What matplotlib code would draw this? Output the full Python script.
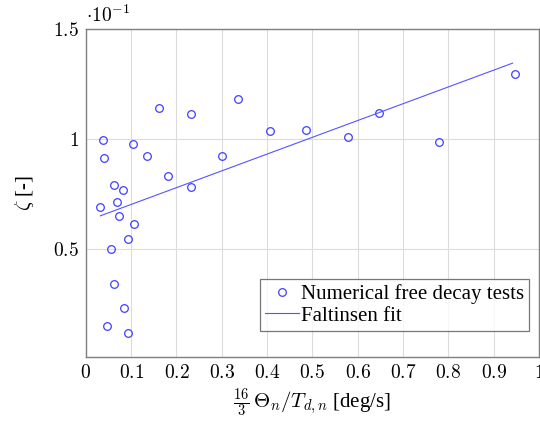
import matplotlib
matplotlib.use("Agg")
import matplotlib.pyplot as plt
import numpy as np

# datos (zeta en unidades reales)
theta_rate = [0.032, 0.037, 0.040, 0.062, 0.083, 0.069, 0.074, 0.056, 0.106, 0.093,
              0.103, 0.062, 0.084, 0.047, 0.093, 0.136, 0.161, 0.182, 0.231, 0.231,
              0.301, 0.336, 0.407, 0.485, 0.579, 0.647, 0.780, 0.947]
zeta = [0.0691, 0.0995, 0.0912, 0.0793, 0.0768, 0.0712, 0.0650, 0.0501, 0.0615, 0.0543,
        0.0977, 0.0342, 0.0231, 0.0147, 0.0116, 0.0925, 0.1143, 0.0830, 0.1114, 0.0781,
        0.0922, 0.1184, 0.1038, 0.1042, 0.1012, 0.1119, 0.0985, 0.1298]

# ajuste de Faltinsen: zeta = a + b*x
fit_a = 0.0626
fit_b = 0.0765

x_ticks = [0, 0.1, 0.2, 0.3, 0.4, 0.5, 0.6, 0.7, 0.8, 0.9, 1]
x_ticklabels = ['0', '0.1', '0.2', '0.3', '0.4', '0.5', '0.6', '0.7', '0.8', '0.9', '1']
y_ticks = [0.05, 0.10, 0.15]
y_ticklabels = ['0.5', '1', '1.5']

plt.rcParams['font.family'] = ['Liberation Serif', 'DejaVu Serif']
plt.rcParams['mathtext.fontset'] = 'cm'

fig = plt.figure(figsize=(5.4, 4.21), dpi=100)
ax = fig.add_axes([0.159, 0.152, 0.839, 0.778])

ax.plot(theta_rate, zeta, linestyle='none', marker='o', markersize=5.5,
        markerfacecolor='none', markeredgecolor='#4040ff', markeredgewidth=0.9,
        label='Numerical free decay tests')

fit_x = np.array([min(theta_rate), 0.942])
ax.plot(fit_x, fit_a + fit_b * fit_x, color='#5555ff', linewidth=0.8,
        label='Faltinsen fit')

ax.set_xlim(0, 1)
ax.set_ylim(0.0007, 0.15)
ax.set_xticks(x_ticks)
ax.set_xticklabels(['$' + t + '$' for t in x_ticklabels])
ax.set_yticks(y_ticks)
ax.set_yticklabels(['$' + t + '$' for t in y_ticklabels])
ax.tick_params(labelsize=14, length=0, pad=5)
ax.grid(True, color='#dcdcdc', linewidth=0.8)
ax.set_axisbelow(True)
for s in ax.spines.values():
    s.set_color('#7f7f7f')
    s.set_linewidth(1.0)

ax.text(0.0, 1.012, r'$\cdot 10^{-1}$', transform=ax.transAxes, fontsize=14,
        ha='left', va='bottom')

ax.set_xlabel(r'$\frac{16}{3}\,\Theta_n/T_{d,n}$ [deg/s]', fontsize=15, labelpad=3)
ax.set_ylabel(r'$\zeta$ [-]', fontsize=15, labelpad=12)

leg = ax.legend(loc='lower right', fontsize=15, frameon=True, fancybox=False,
                edgecolor='#555555', handlelength=1.6, handletextpad=0.1,
                borderpad=0.25, labelspacing=0.1, borderaxespad=0.0,
                bbox_to_anchor=(0.978, 0.08))
leg.get_frame().set_linewidth(0.9)

fig.savefig('out.png', dpi=100)
